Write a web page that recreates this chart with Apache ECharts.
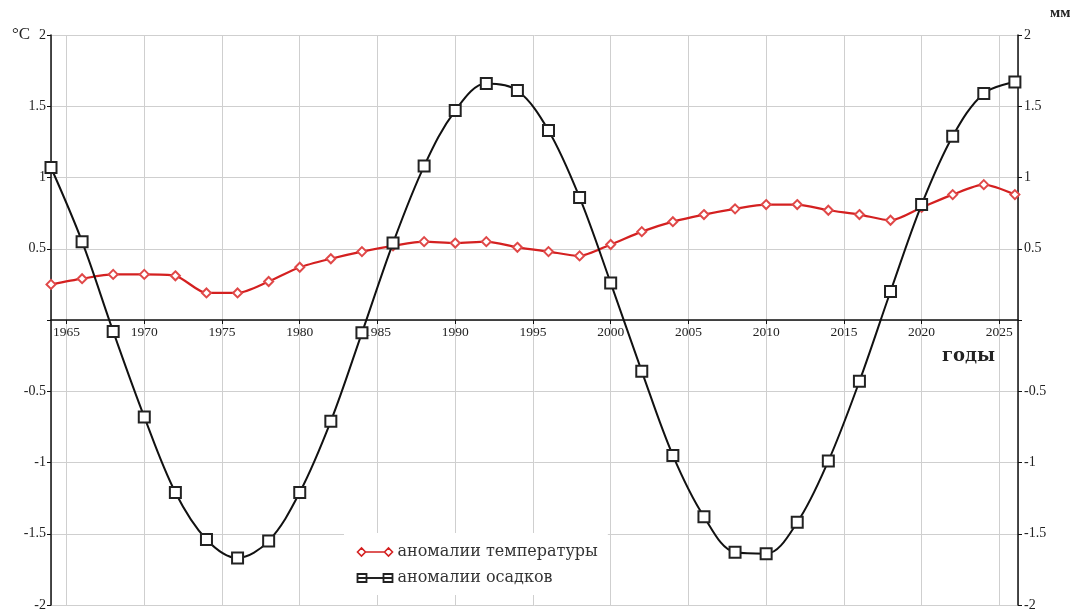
<!DOCTYPE html>
<html>
<head>
<meta charset="utf-8">
<script src="https://cdn.jsdelivr.net/npm/echarts@6/dist/echarts.min.js"></script>
<style>html,body{margin:0;padding:0;background:#fff}#c{width:1079px;height:610px}</style>
</head>
<body>
<div id="c"></div>
<script>
const years = [1964,1966,1968,1970,1972,1974,1976,1978,1980,1982,1984,1986,1988,1990,1992,1994,1996,1998,2000,2002,2004,2006,2008,2010,2012,2014,2016,2018,2020,2022,2024,2026];
const tempAnomaly = [0.25,0.29,0.32,0.32,0.31,0.19,0.19,0.27,0.37,0.43,0.48,0.52,0.55,0.54,0.55,0.51,0.48,0.45,0.53,0.62,0.69,0.74,0.78,0.81,0.81,0.77,0.74,0.70,0.79,0.88,0.95,0.88];
const precipAnomaly = [1.07,0.55,-0.08,-0.68,-1.21,-1.54,-1.67,-1.55,-1.21,-0.71,-0.09,0.54,1.08,1.47,1.66,1.61,1.33,0.86,0.26,-0.36,-0.95,-1.38,-1.63,-1.64,-1.42,-0.99,-0.43,0.20,0.81,1.29,1.59,1.67];
const seriesNames = ['аномалии температуры','аномалии осадков'];
const unitLeft = '°C';
const unitRight = 'мм';
const xName = 'годы';

const serif = 'Liberation Serif';
const chart = echarts.init(document.getElementById('c'));
const pairs = (a) => years.map((y,i)=>[y,a[i]]);
const yLabel = (v) => v === 0 ? '' : String(v);

chart.setOption({
  backgroundColor: '#fff',
  animation: false,
  grid: {left: 51, right: 61, top: 35, bottom: 5, outerBoundsMode: 'none', containLabel: false},
  xAxis: {
    type: 'value', min: 1964, max: 2026.2, splitNumber: 12, minInterval: 5, maxInterval: 5,
    position: 'bottom', offset: -285,
    axisLine: {onZero: false, lineStyle: {color: '#111', width: 1.5}},
    axisTick: {show: true, length: 4, lineStyle: {color: '#111'}},
    axisLabel: {showMinLabel: false, showMaxLabel: false, formatter: (v) => String(v), color: '#222', fontFamily: serif, fontSize: 13.5, margin: 5},
    splitLine: {show: true, lineStyle: {color: '#cfcfcf', width: 1}}
  },
  yAxis: [
    {
      type: 'value', min: -2, max: 2, interval: 0.5, position: 'left',
      axisLine: {show: true, onZero: false, lineStyle: {color: '#111', width: 1.5}},
      axisTick: {show: true, length: 4, lineStyle: {color: '#111'}},
      axisLabel: {formatter: yLabel, color: '#222', fontFamily: serif, fontSize: 14, margin: 5},
      splitLine: {show: true, lineStyle: {color: '#cfcfcf', width: 1}}
    },
    {
      type: 'value', min: -2, max: 2, interval: 0.5, position: 'right',
      axisLine: {show: true, onZero: false, lineStyle: {color: '#111', width: 1.5}},
      axisTick: {show: true, length: 4, lineStyle: {color: '#111'}},
      axisLabel: {formatter: yLabel, color: '#222', fontFamily: serif, fontSize: 14, margin: 6},
      splitLine: {show: false}
    }
  ],
  legend: {
    orient: 'vertical', left: 344, top: 533, itemGap: 10, itemWidth: 35, itemHeight: 11,
    backgroundColor: '#fff', padding: [11, 10, 9, 11],
    textStyle: {fontFamily: 'DejaVu Serif', fontSize: 16, color: '#333'},
    data: [
      {name: seriesNames[0], icon: 'path://M0,5 L4,1 L8,5 L4,9 Z M8,5 L27,5 M27,5 L31,1 L35,5 L31,9 Z',
       itemStyle: {color: 'none', borderColor: '#d42020', borderWidth: 1.6}},
      {name: seriesNames[1], icon: 'path://M0,1 L9,1 L9,9 L0,9 Z M0,5 L35,5 M26,1 L35,1 L35,9 L26,9 Z',
       itemStyle: {color: 'none', borderColor: '#222', borderWidth: 1.8}}
    ]
  },
  series: [
    {
      name: seriesNames[0], type: 'line', yAxisIndex: 0, data: pairs(tempAnomaly),
      smooth: 0.25, symbol: 'emptyDiamond', symbolSize: 9, z: 3,
      lineStyle: {color: '#d42020', width: 2.2},
      itemStyle: {color: '#e04848', borderColor: '#e04848', borderWidth: 1}
    },
    {
      name: seriesNames[1], type: 'line', yAxisIndex: 1, data: pairs(precipAnomaly),
      smooth: 0.35, symbol: 'emptyRect', symbolSize: 11, z: 4,
      lineStyle: {color: '#111', width: 2},
      itemStyle: {color: '#222', borderColor: '#222', borderWidth: 1.3}
    }
  ],
  graphic: [
    {type: 'text', left: 12, top: 26, style: {text: unitLeft, font: '17px "Liberation Serif"', fill: '#222'}},
    {type: 'text', left: 1050, top: 6, style: {text: unitRight, font: 'bold 15px "Liberation Serif"', fill: '#222'}},
    {type: 'text', left: 942, top: 347, style: {text: xName, font: 'bold 18px "DejaVu Serif"', fill: '#222'}}
  ]
});
</script>
</body>
</html>
